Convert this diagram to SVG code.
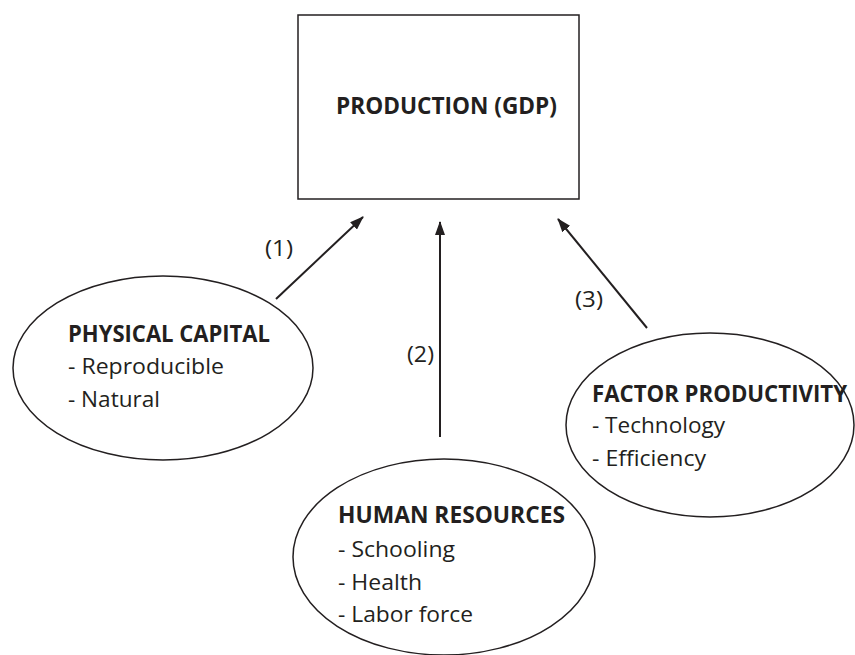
<svg xmlns="http://www.w3.org/2000/svg" width="855" height="655" viewBox="0 0 855 655">
<style>
.shape{fill:none;stroke:#231f20;stroke-width:1.5}
.conn{fill:none;stroke:#231f20;stroke-width:2}
.t{font-family:"Open Sans","Liberation Sans",sans-serif;font-size:22.5px;fill:#231f20}
.b{font-weight:bold;font-size:23px}
</style>
<defs>
<marker id="ah" viewBox="0 0 14 10" refX="13" refY="5" markerWidth="14" markerHeight="10" markerUnits="userSpaceOnUse" orient="auto">
<path d="M0,0 L14,5 L0,10 Z" fill="#231f20"/>
</marker>
</defs>
<rect width="855" height="655" fill="#fff"/>
<g id="production">
<rect class="shape" x="298" y="15" width="281" height="184"/>
<text class="t b" x="336" y="114" textLength="221" lengthAdjust="spacingAndGlyphs">PRODUCTION (GDP)</text>
</g>
<g id="physical-capital">
<ellipse class="shape" cx="163" cy="368" rx="150" ry="92"/>
<text class="t b" x="68" y="342" textLength="202" lengthAdjust="spacingAndGlyphs">PHYSICAL CAPITAL</text>
<text class="t" x="68" y="374" textLength="156" lengthAdjust="spacingAndGlyphs">- Reproducible</text>
<text class="t" x="68" y="407" textLength="92" lengthAdjust="spacingAndGlyphs">- Natural</text>
</g>
<g id="human-resources">
<ellipse class="shape" cx="444" cy="557" rx="151" ry="98"/>
<text class="t b" x="338" y="523" textLength="227" lengthAdjust="spacingAndGlyphs">HUMAN RESOURCES</text>
<text class="t" x="338" y="557" textLength="117" lengthAdjust="spacingAndGlyphs">- Schooling</text>
<text class="t" x="338" y="590" textLength="84" lengthAdjust="spacingAndGlyphs">- Health</text>
<text class="t" x="338" y="622" textLength="135" lengthAdjust="spacingAndGlyphs">- Labor force</text>
</g>
<g id="factor-productivity">
<ellipse class="shape" cx="710" cy="425" rx="144" ry="92"/>
<text class="t b" x="592" y="402" textLength="255" lengthAdjust="spacingAndGlyphs">FACTOR PRODUCTIVITY</text>
<text class="t" x="592" y="433" textLength="133" lengthAdjust="spacingAndGlyphs">- Technology</text>
<text class="t" x="592" y="466" textLength="114" lengthAdjust="spacingAndGlyphs">- Efficiency</text>
</g>
<g id="connectors">
<line class="conn" x1="276" y1="299" x2="363" y2="217" marker-end="url(#ah)"/>
<line class="conn" x1="440" y1="437" x2="440" y2="222" marker-end="url(#ah)"/>
<line class="conn" x1="647" y1="328" x2="558" y2="219" marker-end="url(#ah)"/>
<text class="t" x="265" y="256" textLength="28" lengthAdjust="spacingAndGlyphs">(1)</text>
<text class="t" x="407" y="362" textLength="27" lengthAdjust="spacingAndGlyphs">(2)</text>
<text class="t" x="575" y="307" textLength="28" lengthAdjust="spacingAndGlyphs">(3)</text>
</g>
</svg>
